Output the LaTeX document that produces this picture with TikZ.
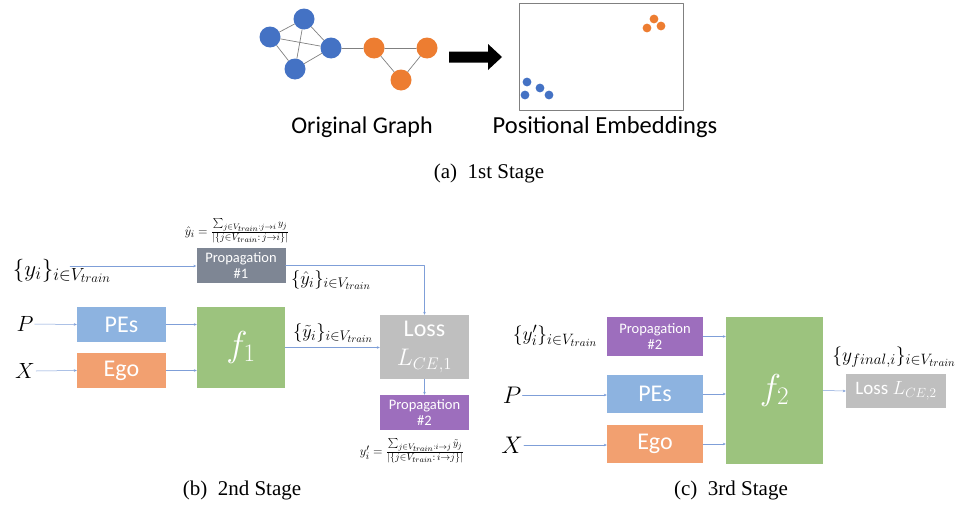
\RequirePackage{fix-cm}
\documentclass[tikz,border=0pt]{standalone}
\usepackage{fontspec}
\setmainfont{Carlito}
\newfontfamily\capfont{Liberation Serif}
\DeclareMathSizes{23}{23}{17.5}{13}
\DeclareMathSizes{18.5}{18.5}{14}{10.5}
\DeclareMathSizes{19.5}{19.5}{15}{11}
\DeclareMathSizes{12.5}{12.5}{10}{8}
\usetikzlibrary{arrows.meta}
\begin{document}
\begin{tikzpicture}[x=1pt,y=-1pt,line join=round,line cap=round]%stages
    \definecolor{vblue}{HTML}{4472C4}
    \definecolor{vorange}{HTML}{ED7D31}
    \definecolor{propgray}{HTML}{7E8694}
    \definecolor{pesblue}{HTML}{8DB3E0}
    \definecolor{egoorange}{HTML}{F2A070}
    \definecolor{fgreen}{HTML}{9CC37E}
    \definecolor{lossgray}{HTML}{BFBFBF}
    \definecolor{proppurple}{HTML}{9D6EBD}
    \definecolor{lnkblue}{HTML}{7F9FD8}
    \useasboundingbox (0,0) rectangle (966,506);
    \tikzset{
        vtx/.style={circle,inner sep=0pt,minimum size=21pt},
        blk/.style={inner sep=0pt,text=white,align=center,minimum width=89pt,minimum height=35pt},
        propbox/.style={blk,font=\fontsize{14.5}{16}\selectfont},
        bigbox/.style={blk,font=\fontsize{24}{28}\selectfont},
        lnk/.style={draw=lnkblue,line width=0.5pt,-{Stealth[length=3pt,width=2.6pt]}},
        mlab/.style={inner sep=1pt},
        caption/.style={font=\capfont\fontsize{21}{24}\selectfont}
    }
    % 1st stage
    \node[vtx,fill=vblue] (g1) at (270,37) {};
    \node[vtx,fill=vblue] (g2) at (304,19) {};
    \node[vtx,fill=vblue] (g3) at (331,48) {};
    \node[vtx,fill=vblue] (g4) at (295,69) {};
    \node[vtx,fill=vorange] (g5) at (374,48) {};
    \node[vtx,fill=vorange] (g6) at (427,48) {};
    \node[vtx,fill=vorange] (g7) at (401,80) {};
    \foreach \a/\b in {g1/g2,g1/g3,g1/g4,g2/g3,g2/g4,g3/g4,g3/g5,g5/g6,g5/g7,g6/g7}
        \draw[gray,line width=0.7pt] (\a) -- (\b);
    \fill (449,51.5) -- (488,51.5) -- (488,44) -- (502,57) -- (488,70) -- (488,62.5) -- (449,62.5) -- cycle;
    \draw[gray,line width=0.8pt] (519,3) rectangle (683,110);
    \foreach \p in {(647,28),(654,19),(661,26)}
        \fill[vorange] \p circle (4.4pt);
    \foreach \p in {(527,82),(540,88),(549,95),(525,95)}
        \fill[vblue] \p circle (4.4pt);
    \node[font=\fontsize{24}{28}\selectfont] (og) at (362,127) {Original Graph};
    \node[font=\fontsize{24.5}{28}\selectfont] (pemb) at (605,127) {Positional Embeddings};
    \node[caption] (capa) at (489,173) {(a)\hspace{0.5em}1st Stage};
    % 2nd stage
    \node[propbox,fill=propgray,minimum height=35pt] (prop1) at (241,265.5) {Propagation\\\#1};
    \node[bigbox,fill=pesblue] (pe1) at (121.5,324.5) {PEs};
    \node[bigbox,fill=egoorange] (ego1) at (121.5,370.5) {Ego};
    \node[blk,fill=fgreen,minimum width=88pt,minimum height=81pt,font=\fontsize{36}{40}\selectfont] (f1) at (241,347.5) {$f_1$};
    \node[bigbox,fill=lossgray,minimum height=64pt] (loss1) at (424.5,347) {Loss\\[1pt]$L_{CE,1}$};
    \node[propbox,fill=proppurple] (prop2b) at (424.5,412.5) {Propagation\\\#2};
    \node[mlab,font=\fontsize{23}{26}\selectfont] (ylab) at (62,271) {$\{y_i\}_{i\in V_{train}}$};
    \node[mlab,font=\fontsize{18.5}{22}\selectfont] (yhat) at (331,280) {$\{\hat{y}_i\}_{i\in V_{train}}$};
    \node[mlab,font=\fontsize{18.5}{22}\selectfont] (ytil) at (333,333) {$\{\tilde{y}_i\}_{i\in V_{train}}$};
    \node[mlab,font=\fontsize{22}{26}\selectfont] (p1) at (25,324) {$P$};
    \node[mlab,font=\fontsize{22}{26}\selectfont] (x1) at (25,371) {$X$};
    \node[mlab,font=\fontsize{12.5}{14}\selectfont] (form1) at (237,231)
        {$\hat{y}_i=\frac{\sum_{j\in V_{train}:j\to i}y_j}{|\{j\in V_{train}:\,j\to i\}|}$};
    \node[mlab,font=\fontsize{12.5}{14}\selectfont] (form2) at (412,451)
        {$y'_i=\frac{\sum_{j\in V_{train}:i\to j}\tilde{y}_j}{|\{j\in V_{train}:\,i\to j\}|}$};
    \coordinate (ystart) at (70,266);
    \draw[lnk] (ystart) -- (ystart -| prop1.west);
    \draw[lnk] (prop1.east) -| (loss1.north);
    \draw[lnk] (p1.east) -- (pe1.west);
    \draw[lnk] (x1.east) -- (ego1.west);
    \draw[lnk] (pe1.east) -- (pe1.east -| f1.west);
    \draw[lnk] (ego1.east) -- (ego1.east -| f1.west);
    \draw[lnk] (f1.east) -- (f1.east -| loss1.west);
    \draw[lnk] (loss1.south) -- (prop2b.north);
    \node[caption] (capb) at (242,490) {(b)\hspace{0.5em}2nd Stage};
    % 3rd stage
    \node[propbox,fill=proppurple,minimum width=96pt,minimum height=39pt] (prop2c) at (655,336.5) {Propagation\\\#2};
    \node[bigbox,fill=pesblue,minimum width=96pt,minimum height=38pt] (pe2) at (655,394) {PEs};
    \node[bigbox,fill=egoorange,minimum width=96pt,minimum height=38pt] (ego2) at (655,444) {Ego};
    \node[blk,fill=fgreen,minimum width=97pt,minimum height=147pt,font=\fontsize{36}{40}\selectfont] (f2) at (774.5,390.5) {$f_2$};
    \node[blk,fill=lossgray,minimum width=100pt,minimum height=34pt,font=\fontsize{19}{22}\selectfont] (loss2) at (896,391) {Loss $L_{CE,2}$};
    \node[mlab,font=\fontsize{19.5}{22}\selectfont] (ypr) at (555,336) {$\{y'_i\}_{i\in V_{train}}$};
    \node[mlab,font=\fontsize{19.5}{22}\selectfont] (yfin) at (894,357) {$\{y_{final,i}\}_{i\in V_{train}}$};
    \node[mlab,font=\fontsize{24}{28}\selectfont] (p2) at (512,395) {$P$};
    \node[mlab,font=\fontsize{24}{28}\selectfont] (x2) at (512,445) {$X$};
    \draw[lnk] (p2.east) -- (p2.east -| pe2.west);
    \draw[lnk] (x2.east) -- (x2.east -| ego2.west);
    \draw[lnk] (prop2c.east) -- (prop2c.east -| f2.west);
    \draw[lnk] (pe2.east) -- (pe2.east -| f2.west);
    \draw[lnk] (ego2.east) -- (ego2.east -| f2.west);
    \draw[lnk] (f2.east) -- (loss2.west);
    \node[caption] (capc) at (731,490) {(c)\hspace{0.5em}3rd Stage};
\end{tikzpicture}
\end{document}
